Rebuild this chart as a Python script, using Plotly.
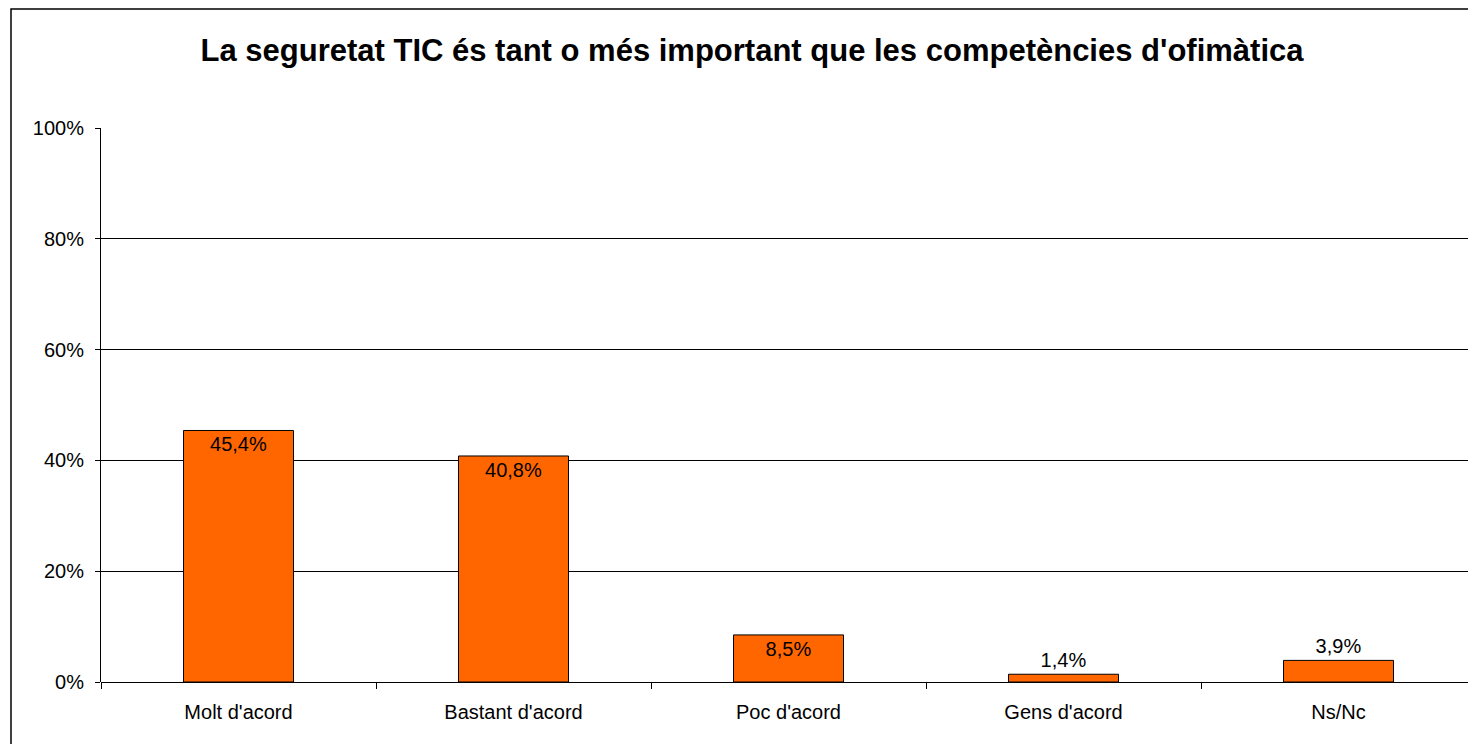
import plotly.graph_objects as go

categories = ["Molt d'acord", "Bastant d'acord", "Poc d'acord", "Gens d'acord", "Ns/Nc"]
values = [45.4, 40.8, 8.5, 1.4, 3.9]
label_positions = ["inside", "inside", "inside", "outside", "outside"]
y_ticks = [0, 20, 40, 60, 80, 100]
y_tick_text = [f"{v}%" for v in y_ticks]

OFF = 8  # page body margin
W, H = 1476 - OFF, 744 - OFF
L, R, T, B = 101 - OFF, 0, 128 - OFF, 62
pw, ph = W - L - R, H - T - B

fig = go.Figure(go.Bar(
    x=categories, y=values,
    marker=dict(color="#FF6600", line=dict(color="#000000", width=1)),
    texttemplate="%{y:.1f}%",
    textposition=label_positions,
    insidetextanchor="end",
    constraintext="none",
    textfont=dict(family="Liberation Sans, Arial, sans-serif", size=20, color="#000000"),
    cliponaxis=False,
))

fig.update_layout(
    width=W, height=H,
    margin=dict(l=L, r=R, t=T, b=B),
    paper_bgcolor="white", plot_bgcolor="white",
    separators=",.",
    bargap=0.6,
    font=dict(family="Liberation Sans, Arial, sans-serif", size=20, color="#000000"),
    title=dict(text="<b>La seguretat TIC és tant o més important que les competències d'ofimàtica</b>",
               x=(752 - OFF) / W, xanchor="center", y=1 - (50 - OFF) / H, yanchor="middle",
               font=dict(size=31, color="#000000")),
    showlegend=False,
)
fig.update_xaxes(
    showline=False, ticks="outside", tickson="boundaries", ticklen=6,
    tickcolor="#000000", showgrid=False, ticklabelstandoff=16,
)
fig.update_yaxes(
    range=[0, 100], tickmode="array", tickvals=y_ticks, ticktext=y_tick_text,
    showgrid=True, gridcolor="#000000", gridwidth=1,
    zeroline=True, zerolinecolor="#000000", zerolinewidth=1,
    showline=True, linecolor="#000000", linewidth=1,
    ticks="outside", ticklen=5, tickcolor="#000000", ticklabelstandoff=7,
)
# chart border
fig.add_shape(type="rect", xref="paper", yref="paper",
              x0=(11 - OFF - L) / pw, x1=(W + 20 - L) / pw,
              y0=-(B + 20) / ph, y1=(H - B - (9 - OFF)) / ph,
              line=dict(color="#000000", width=1.5), fillcolor="rgba(0,0,0,0)", layer="below")

fig.write_html("out.html")
